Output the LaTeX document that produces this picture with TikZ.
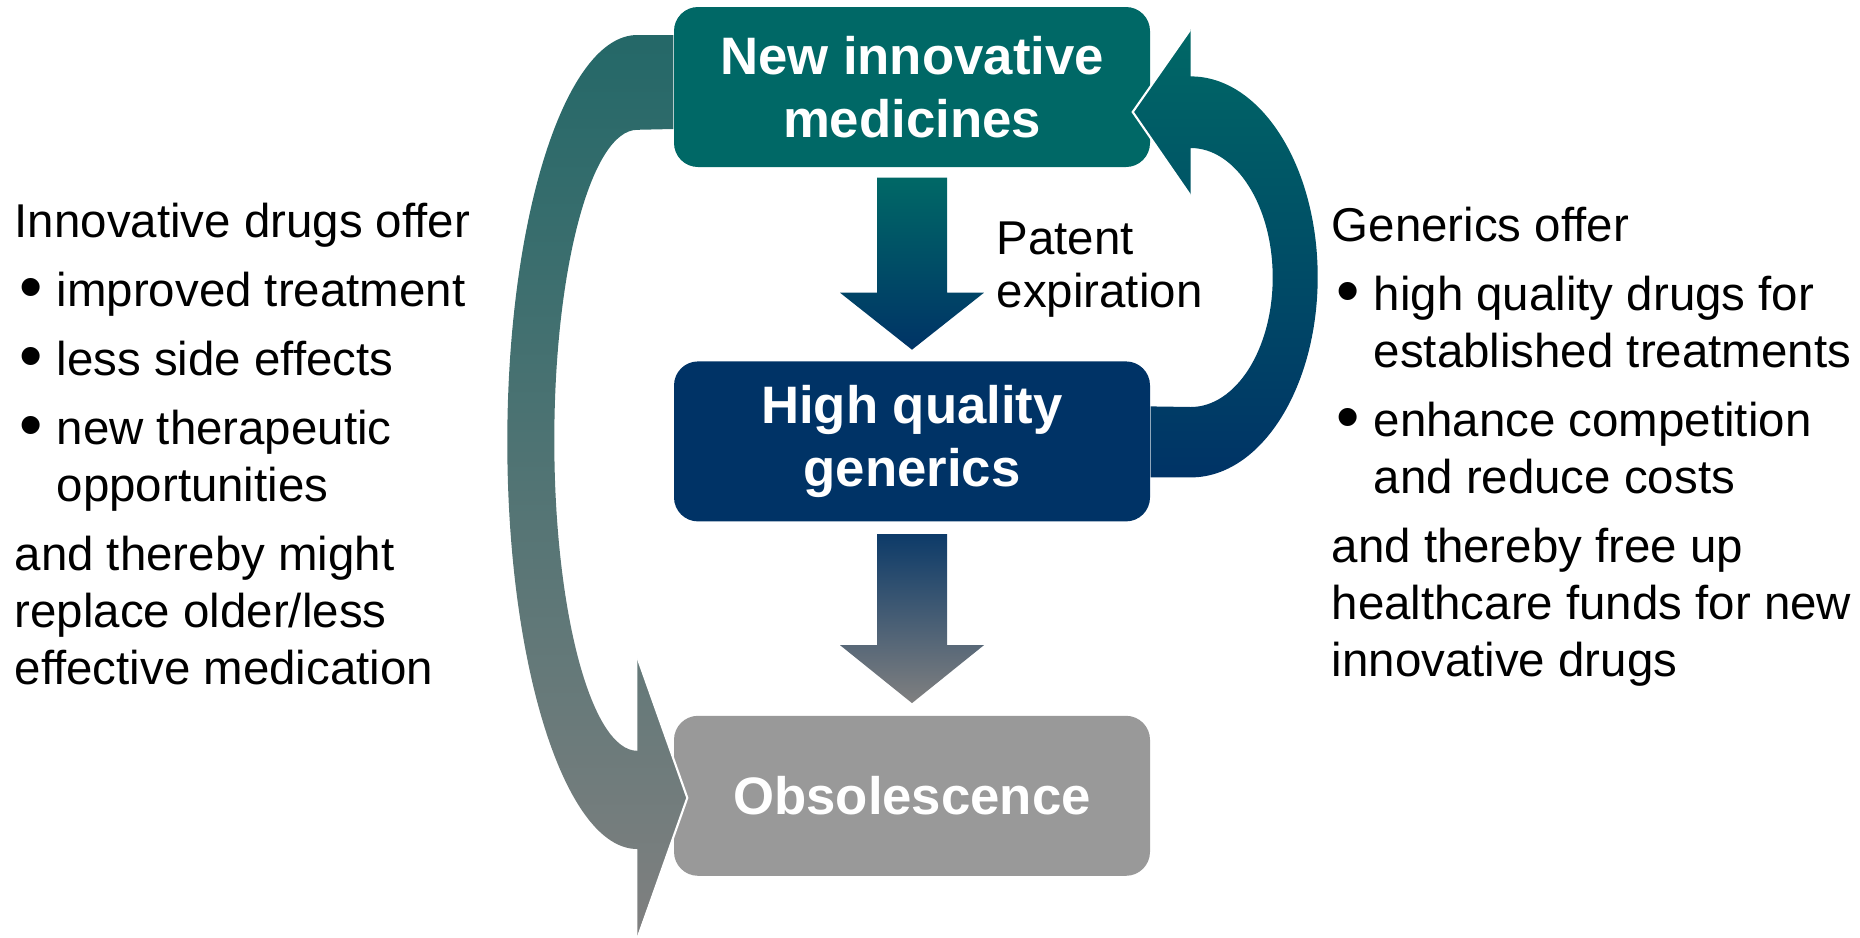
\documentclass[tikz,border=0pt]{standalone}
\usepackage{fontspec}
\setmainfont{Liberation Sans}
\usepackage{tikz}
\usetikzlibrary{calc}
\usetikzlibrary{positioning}
\definecolor{petrol}{RGB}{0,104,102}
\definecolor{marine}{RGB}{0,51,102}
\definecolor{grisclair}{RGB}{153,153,153}
\definecolor{grisfonce}{RGB}{128,128,128}
\definecolor{petrolgris}{RGB}{36,104,104}
\newcommand{\puce}{\makebox[4.2mm][l]{\hspace{0.5mm}\raisebox{-0.9pt}{\scalebox{1.4}{\textbullet}}}}

\begin{document}
\begin{tikzpicture}[x=0.1mm, y=-0.1mm,
				box/.style = {rounded corners=2.4mm,
					minimum width=47.6mm, minimum height=16mm,
					text=white, align=center,
					font=\fontsize{15}{17.9}\selectfont\bfseries},
				txt/.style = {align=left, inner sep=0pt,
					font=\fontsize{13.5}{16.2}\selectfont}]
				
				\useasboundingbox (0,0) rectangle (1860,937);
				
				% Boxes
				\node[box, fill=petrol] (new) at (912,87) {New innovative\\medicines};
				\node[box, fill=marine, below=19.3mm of new] (hq) {High quality\\generics};
				\node[box, fill=grisclair, below=19.3mm of hq] (obs) {Obsolescence};
				
				% Straight arrows
				\shade[top color=petrol, bottom color=marine]
					($(new.south)+(-35,10)$) -- ($(new.south)+(35,10)$) -- ($(hq.north)+(35,-68)$)
					-- ($(hq.north)+(72,-68)$) -- ($(hq.north)+(0,-11)$) -- ($(hq.north)+(-72,-68)$)
					-- ($(hq.north)+(-35,-68)$) -- cycle;
				\shade[top color=marine!90!grisfonce, bottom color=grisfonce]
					($(hq.south)+(-35,12)$) -- ($(hq.south)+(35,12)$) -- ($(obs.north)+(35,-70)$)
					-- ($(obs.north)+(72,-70)$) -- ($(obs.north)+(0,-12)$) -- ($(obs.north)+(-72,-70)$)
					-- ($(obs.north)+(-35,-70)$) -- cycle;
				
				% Curved arrow left
				\shade[top color=petrolgris, middle color=grisfonce!78!petrolgris, bottom color=grisfonce]
					($(new.west)+(0,-52)$) -- ++(-36,0)
					arc[start angle=-90, end angle=-270, x radius=130, y radius=407]
					-- ++(0,87) -- ($(obs.west)+(14,2)$) -- ++(-50,-139) -- ++(0,92)
					arc[start angle=90, end angle=270, x radius=83, y radius=310.5]
					-- ($(new.west)+(0,42)$) -- cycle;
				\draw[white, line width=0.6pt] (638,659) -- ($(obs.west)+(14,2)$) -- (638,937);
				
				% Curved arrow right
				\shade[top color=petrol, bottom color=marine]
					($(hq.east)+(0,36)$) -- ++(40,0)
					arc[start angle=90, end angle=-90, x radius=127, y radius=200.5]
					-- ++(0,-47) -- ($(new.east)+(-18,25)$) -- ++(58,83) -- ++(0,-47)
					arc[start angle=-90, end angle=90, x radius=82, y radius=129.5]
					-- ($(hq.east)+(0,-35)$) -- cycle;
				\draw[white, line width=0.6pt] (1190,30) -- ($(new.east)+(-18,25)$) -- (1190,195);
				
				% Texts
				\node[txt, anchor=base west, font=\fontsize{13.5}{14.8}\selectfont] (patent) at (996,307) {Patent\\expiration};
				
				\node[txt, anchor=base west] (pro) at (14,684) {Innovative drugs offer\\[3.4pt]
					\puce improved treatment\\[3.4pt]
					\puce less side effects\\[3.4pt]
					\puce new therapeutic\\
					\hspace*{4.2mm}opportunities\\[3.4pt]
					and thereby might\\
					replace older/less\\
					effective medication};
				
				\node[txt, anchor=base west] (contra) at (1331,676) {Generics offer\\[3.4pt]
					\puce high quality drugs for\\
					\hspace*{4.2mm}established treatments\\[3.4pt]
					\puce enhance competition\\
					\hspace*{4.2mm}and reduce costs\\[3.4pt]
					and thereby free up\\
					healthcare funds for new\\
					innovative drugs};
				
			\end{tikzpicture}
\end{document}
